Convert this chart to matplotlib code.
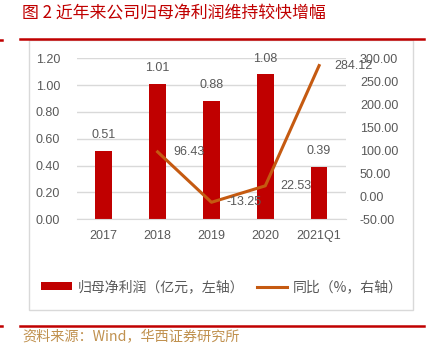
import matplotlib.pyplot as plt
from matplotlib.lines import Line2D
from matplotlib.patches import Patch, Rectangle

plt.rcParams['font.family'] = ['Liberation Sans', 'Noto Sans CJK SC', 'DejaVu Sans']

# 年份与数据
periods = ['2017', '2018', '2019', '2020', '2021Q1']
net_profit = [0.51, 1.01, 0.88, 1.08, 0.39]          # 归母净利润（亿元）
yoy_periods = ['2018', '2019', '2020', '2021Q1']
yoy = [96.43, -13.25, 22.53, 284.12]                  # 同比（%）

left_ticks = [0.00, 0.20, 0.40, 0.60, 0.80, 1.00, 1.20]
right_ticks = [-50, 0, 50, 100, 150, 200, 250, 300]

red = '#C00000'
orange = '#C55A11'
grey = '#595959'
cjk = ['Noto Sans CJK SC', 'DejaVu Sans']

fig = plt.figure(figsize=(4.32, 3.49), dpi=100)

# 标题和上下红线
fig.text(0.051, 0.963, '图 2 近年来公司归母净利润维持较快增幅', color=red,
         fontsize=12.2, family=cjk, va='center', ha='left')
fig.add_artist(Line2D([0.047, 0.981], [0.888, 0.888], color=red, lw=1.8))
fig.add_artist(Line2D([0.0, 0.004], [0.886, 0.886], color=red, lw=1.8))
fig.add_artist(Line2D([0.047, 0.981], [0.066, 0.066], color=red, lw=1.8))
fig.add_artist(Line2D([0.0, 0.004], [0.066, 0.066], color=red, lw=1.8))

# 图表外框
fig.add_artist(Rectangle((0.067, 0.112), 0.889, 0.773, fill=False,
                         edgecolor='#D9D9D9', lw=1.0))

fig.text(0.051, 0.035, '资料来源：Wind，华西证券研究所', color='#C0914F',
         fontsize=10.2, family=cjk, va='center', ha='left')

ax = fig.add_axes([0.178, 0.372, 0.623, 0.461])
x = list(range(len(periods)))
bars = ax.bar(x, net_profit, width=0.31, color=red, zorder=2)
ax.set_ylim(0, 1.2)
ax.set_xlim(-0.5, len(periods) - 0.5)
ax.set_yticks(left_ticks)
ax.set_yticklabels(['%.2f' % v for v in left_ticks])
ax.set_xticks(x)
ax.set_xticklabels(periods)
ax.grid(axis='y', color='#D9D9D9', lw=1.0, zorder=0)
ax.set_axisbelow(True)
for s in ['top', 'left', 'right']:
    ax.spines[s].set_visible(False)
ax.spines['bottom'].set_color('#D9D9D9')
ax.tick_params(axis='both', length=0, colors=grey, labelsize=9)
ax.tick_params(axis='y', pad=12)
ax.tick_params(axis='x', pad=8)

for xi, v in zip(x, net_profit):
    ax.annotate('%.2f' % v, (xi, v), xytext=(0, 7), textcoords='offset points',
                ha='center', va='bottom', color=grey, fontsize=9)

ax2 = ax.twinx()
xl = [periods.index(p) for p in yoy_periods]
ax2.plot(xl, yoy, color=orange, lw=2.2, zorder=3)
ax2.set_ylim(-50, 300)
ax2.set_yticks(right_ticks)
ax2.set_yticklabels(['%.2f' % v for v in right_ticks])
for s in ['top', 'left', 'right', 'bottom']:
    ax2.spines[s].set_visible(False)
ax2.tick_params(axis='y', length=0, colors=grey, labelsize=9, pad=10)

for xi, v in zip(xl, yoy):
    ax2.annotate('%.2f' % v, (xi, v), xytext=(11, 0), textcoords='offset points',
                 ha='left', va='center', color=grey, fontsize=9)

handles = [Patch(facecolor=red, edgecolor='none'),
           Line2D([0], [0], color=orange, lw=2.2)]
labels = ['归母净利润（亿元，左轴）', '同比（%，右轴）']
fig.legend(handles, labels, loc='center', bbox_to_anchor=(0.514, 0.178), ncol=2,
           frameon=False, prop={'family': cjk, 'size': 10}, handlelength=2.2,
           handleheight=0.45, handletextpad=0.4, columnspacing=0.9,
           labelcolor=grey)

fig.savefig('out.png', dpi=100)
